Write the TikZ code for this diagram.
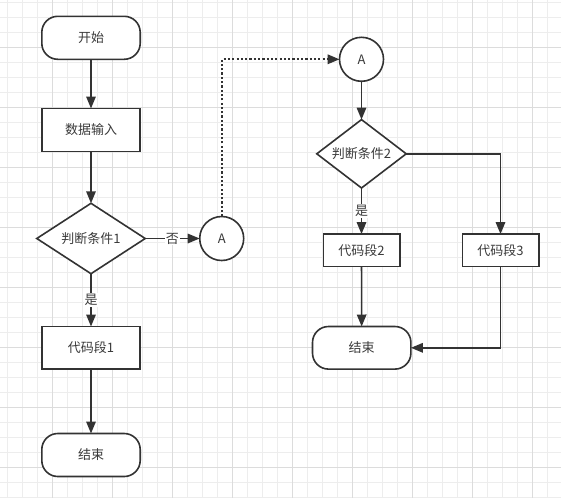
\documentclass[tikz,border=0pt]{standalone}
\usepackage{fontspec}
\newfontfamily\cjk{Noto Sans CJK SC}
\usetikzlibrary{arrows.meta,shapes.geometric}
\definecolor{ln}{HTML}{333333}
\definecolor{txt}{HTML}{3a3a3a}
\definecolor{gmin}{HTML}{ededed}
\definecolor{gmaj}{HTML}{dcdcdc}
\tikzset{
  base/.style={draw=ln, line width=1.6pt, text=txt, font=\cjk\fontsize{13}{15}\selectfont, inner sep=0pt, outer sep=0pt, fill=white},
  terminal/.style={base, rectangle, rounded corners=16pt, minimum width=98.4pt, minimum height=43pt},
  proc/.style={base, rectangle, minimum width=98.4pt, minimum height=43pt},
  smallproc/.style={base, rectangle, minimum width=76.4pt, minimum height=32.4pt},
  decision/.style={base, diamond, shape aspect=1.5},
  conn/.style={base, circle, minimum size=44pt},
  arr/.style={draw=ln, line width=1.6pt, -{Triangle[length=12pt,width=9.5pt]}},
  dotarr/.style={draw=ln, line width=2pt, dash pattern=on 2.2pt off 2.1pt, -{Triangle[length=12pt,width=9.5pt]}},
  lab/.style={fill=white, text=txt, font=\cjk\fontsize{13}{15}\selectfont, inner sep=1pt},
  gridminor/.style={draw=gmin, line width=1pt},
  gridmajor/.style={draw=gmaj, line width=1pt}
}
\begin{document}
\begin{tikzpicture}[x=1pt,y=-1pt]
\useasboundingbox (0,0) rectangle (561,498);
\fill[white] (0,0) rectangle (561,498);
\foreach \k in {0,...,36} \draw[gridminor] ({7.3+15*\k},0) -- ({7.3+15*\k},498);
\foreach \k in {0,...,33} \draw[gridminor] (0,{2.3+15*\k}) -- (561,{2.3+15*\k});
\foreach \k in {0,...,8} \draw[gridmajor] ({52.3+60*\k},0) -- ({52.3+60*\k},498);
\foreach \k in {0,...,7} \draw[gridmajor] (0,{47.3+60*\k}) -- (561,{47.3+60*\k});

\node[terminal] (start) at (91,37.8) {开始};
\node[proc] (input) at (91,130) {数据输入};
\node[decision, minimum width=108.4pt, minimum height=70.4pt] (d1) at (91,238.5) {判断条件1};
\node[conn] (a1) at (221.7,238.5) {A};
\node[proc, minimum height=42.4pt] (code1) at (91,347.7) {代码段1};
\node[terminal] (end1) at (91,455) {结束};
\node[conn] (a2) at (361.5,59.3) {A};
\node[decision, minimum width=89.4pt, minimum height=68.4pt] (d2) at (361.5,153.8) {判断条件2};
\node[smallproc] (code2) at (361.5,250.3) {代码段2};
\node[smallproc] (code3) at (500.5,250.3) {代码段3};
\node[terminal, minimum height=42.6pt] (end2) at (361.7,347.8) {结束};

\draw[arr] (start) -- (input);
\draw[arr] (input) -- (d1);
\draw[arr] (d1) -- node[lab] {是} (code1);
\draw[arr] (d1) -- node[lab] {否} (a1);
\draw[arr] (code1) -- (end1);
\draw[dotarr] (a1.north) |- (a2.west);
\draw[arr] (a2) -- (d2);
\draw[arr] (d2) -- node[lab] {是} (code2);
\draw[arr] (d2.east) -| (code3.north);
\draw[arr] (code2) -- (end2);
\draw[arr] (code3.south) |- (end2.east);
\end{tikzpicture}
\end{document}
